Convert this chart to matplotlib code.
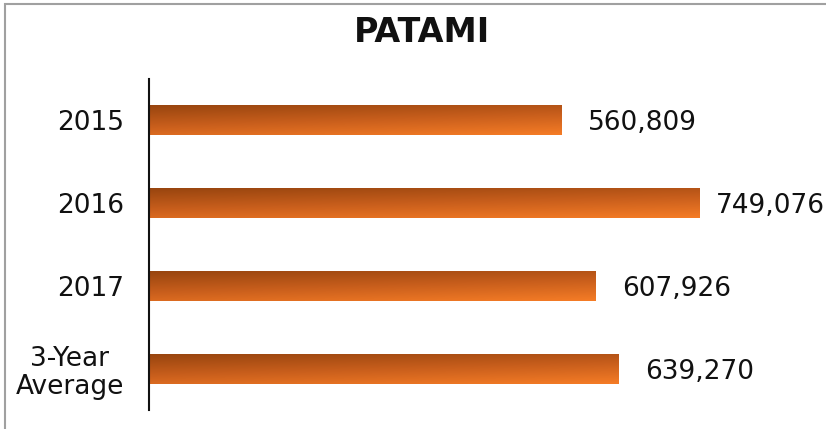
import numpy as np
import matplotlib
matplotlib.use("Agg")
import matplotlib.pyplot as plt
import matplotlib.transforms as mtransforms
from matplotlib.colors import LinearSegmentedColormap
from matplotlib.patches import Rectangle

# data
categories = ["2015", "2016", "2017", "3-Year\nAverage"]
values = [560809, 749076, 607926, 639270]
title = "PATAMI"

W, H = 826, 429
fig = plt.figure(figsize=(W / 100, H / 100), dpi=100)

# outer frame (cropped on right and bottom in the original)
fig.patches.append(Rectangle((5 / W, -0.05), 1.0, 1 - 4 / H + 0.05, transform=fig.transFigure,
                             fill=False, edgecolor="#a0a0a0", linewidth=1.5))

ax = fig.add_axes([149 / W, 19 / H, 661.5 / W, 331 / H])

cmap = LinearSegmentedColormap.from_list("bar", ["#98450f", "#c85e1c", "#f57c26"])
gx, gy = np.meshgrid(np.linspace(0, 1, 200), np.linspace(0, 1, 50))
grad = 0.7 * gy + 0.3 * gx

y = np.arange(len(categories))
bars = ax.barh(y, values, height=0.36, color="none", edgecolor="none")
labels = []
for b, v in zip(bars, values):
    x0, y0 = b.get_x(), b.get_y()
    w, h = b.get_width(), b.get_height()
    ax.imshow(grad, cmap=cmap, aspect="auto", origin="upper",
              extent=(x0, x0 + w, y0 + h, y0), zorder=2)
    shift = mtransforms.offset_copy(ax.transData, fig=fig, x=0, y=-3, units="dots")
    t = ax.text(v + 36000, y0 + h / 2, f"{v:,}", va="center", ha="left",
                fontsize=19, color="#111111", transform=shift)
    labels.append(t)
ax.set_xlim(0, 900000)
ax.set_ylim(3.5, -0.5)

ax.set_yticks(y)
ax.set_yticklabels(categories, fontsize=19, color="#111111", linespacing=1.1)
for t in ax.get_yticklabels():
    t.set_multialignment("center")
ax.tick_params(axis="y", length=0, pad=18)
ax.set_xticks([])
for s in ["top", "right", "bottom"]:
    ax.spines[s].set_visible(False)
ax.spines["left"].set_linewidth(1.5)
ax.spines["left"].set_color("#111111")
ax.patch.set_alpha(0)

fig.text(0.511, 1 - 33 / H, title, ha="center", va="center",
         fontsize=24, fontweight="bold", color="#111111")

# pull labels that would run off the right edge back inside, like Excel does
fig.canvas.draw()
r = fig.canvas.get_renderer()
for t in labels:
    bb = t.get_window_extent(r)
    over = bb.x1 - (W - 1)
    if over > 0:
        t.set_transform(mtransforms.offset_copy(ax.transData, fig=fig, x=-over, y=-3, units="dots"))

fig.savefig("out.png", dpi=100)
